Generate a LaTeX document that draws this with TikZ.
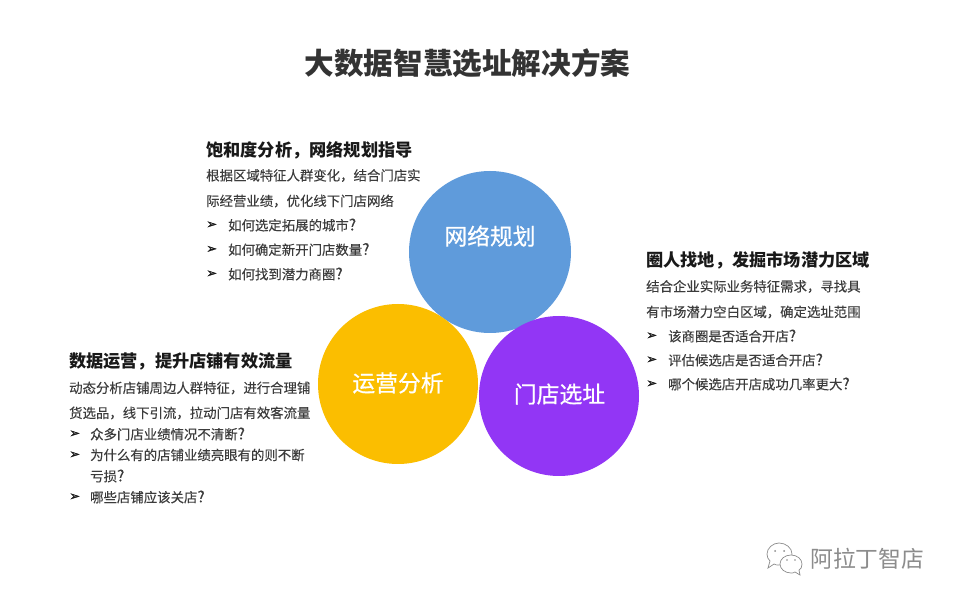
\documentclass[tikz,border=0pt]{standalone}
\usepackage{fontspec}
\setmainfont{Noto Sans CJK SC}
\newfontfamily\ballfont[FakeBold=0.6]{Noto Sans CJK SC}
\newfontfamily\bodyfont[FakeBold=0.12]{Noto Sans CJK SC}
\newfontfamily\symb[FakeBold=1.2]{DejaVu Sans}
\newcommand{\dou}{\char"FF0C\relax}
\newcommand{\wen}{{\fontsize{15.5}{14}\selectfont ?}}
\definecolor{inkdark}{HTML}{333333}
\definecolor{inkbody}{HTML}{3C3C3C}
\definecolor{bluefill}{HTML}{5F9BDB}
\definecolor{yellowfill}{HTML}{FBBE00}
\definecolor{purplefill}{HTML}{9236F5}
\definecolor{markgray}{HTML}{8C8C8C}
\tikzset{
  x=1pt,y=-1pt,
  titletext/.style={anchor=center,inner sep=0,text=inkdark,font=\fontsize{29.6}{30}\selectfont\bfseries},
  headtext/.style={anchor=west,inner sep=0,text=black!90,font=\fontsize{17.2}{18}\selectfont\bfseries},
  bodytext/.style={anchor=west,inner sep=0,text=inkbody,font=\bodyfont\fontsize{13.4}{14}\selectfont},
  marker/.style={anchor=west,inner sep=0,text=black!90,font=\symb\fontsize{13}{13}\selectfont},
  ball/.style={circle,minimum size=160pt,inner sep=0},
  balltext/.style={inner sep=0,text=white,font=\ballfont\fontsize{22.8}{23}\selectfont},
  marktext/.style={anchor=west,inner sep=0,text=markgray,font=\fontsize{22.8}{24}\selectfont},
  bubble/.style={draw=markgray,line width=0.7pt,fill=white},
}
\begin{document}
\begin{tikzpicture}
\useasboundingbox (0,0) rectangle (954,601);
\fill[white] (0,0) rectangle (954,601);

\node[titletext] (title) at (467.5,63) {大数据智慧选址解决方案};

\node[ball,fill=bluefill,minimum size=162pt] (net) at (490,252) {};
\node[ball,fill=yellowfill] (ops) at (398,384) {};
\node[ball,fill=purplefill] (site) at (559,396) {};
\node[balltext] (netlabel) at (490,236) {网络规划};
\node[balltext] (opslabel) at (398,383) {运营分析};
\node[balltext] (sitelabel) at (559.5,394) {门店选址};

% top-left block
\node[headtext] (a0) at (206,150) {饱和度分析\dou 网络规划指导};
\node[bodytext] (a1) at (206,175.5) {根据区域特征人群变化\dou 结合门店实};
\node[bodytext] (a2) at (206,201) {际经营业绩\dou 优化线下门店网络};
\node[marker] (am1) at (206,225) {➢};
\node[bodytext] (a3) at (228,225) {如何选定拓展的城市\wen};
\node[marker] (am2) at (206,249.5) {➢};
\node[bodytext] (a4) at (228,249.5) {如何确定新开门店数量\wen};
\node[marker] (am3) at (206,274) {➢};
\node[bodytext] (a5) at (228,274) {如何找到潜力商圈\wen};

% left block
\node[headtext] (b0) at (69,361.5) {数据运营\dou 提升店铺有效流量};
\node[bodytext] (b1) at (69,388) {动态分析店铺周边人群特征\dou 进行合理铺};
\node[bodytext] (b2) at (69,413) {货选品\dou 线下引流\dou 拉动门店有效客流量};
\node[marker] (bm1) at (69,434) {➢};
\node[bodytext] (b3) at (90,434) {众多门店业绩情况不清断\wen};
\node[marker] (bm2) at (69,455) {➢};
\node[bodytext] (b4) at (90,455) {为什么有的店铺业绩亮眼有的则不断};
\node[bodytext] (b5) at (90,476) {亏损\wen};
\node[marker] (bm3) at (69,497) {➢};
\node[bodytext] (b6) at (90,497) {哪些店铺应该关店\wen};

% right block
\node[headtext] (c0) at (646,260.5) {圈人找地\dou 发掘市场潜力区域};
\node[bodytext] (c1) at (646,286.5) {结合企业实际业务特征需求\dou 寻找具};
\node[bodytext] (c2) at (646,312) {有市场潜力空白区域\dou 确定选址范围};
\node[marker] (cm1) at (646,336) {➢};
\node[bodytext] (c3) at (668,336) {该商圈是否适合开店\wen};
\node[marker] (cm2) at (646,360) {➢};
\node[bodytext] (c4) at (668,360) {评估候选店是否适合开店\wen};
\node[marker] (cm3) at (646,384) {➢};
\node[bodytext] (c5) at (668,384) {哪个候选店开店成功几率更大\wen};

% watermark
\draw[bubble] (767,554) .. controls (767,548) and (773,543) .. (779,543) .. controls (786,543) and (792,548) .. (792,554) .. controls (792,561) and (786,565) .. (779,565) .. controls (777,565) and (775,565) .. (774,564) -- (768,568) -- (770,561) .. controls (768,559) and (767,557) .. (767,554) -- cycle;
\fill[markgray] (775,551) circle (1pt) (784,551) circle (1pt);
\draw[bubble] (780,564) .. controls (780,559) and (785,555) .. (791,555) .. controls (797,555) and (802,559) .. (802,564) .. controls (802,567) and (801,569) .. (799,570) -- (800,575) -- (795,572) .. controls (794,573) and (792,573) .. (791,573) .. controls (785,573) and (780,569) .. (780,564) -- cycle;
\fill[markgray] (787,560) circle (0.9pt) (795,560) circle (0.9pt);
\node[marktext] (mark) at (810,559) {阿拉丁智店};
\end{tikzpicture}
\end{document}
